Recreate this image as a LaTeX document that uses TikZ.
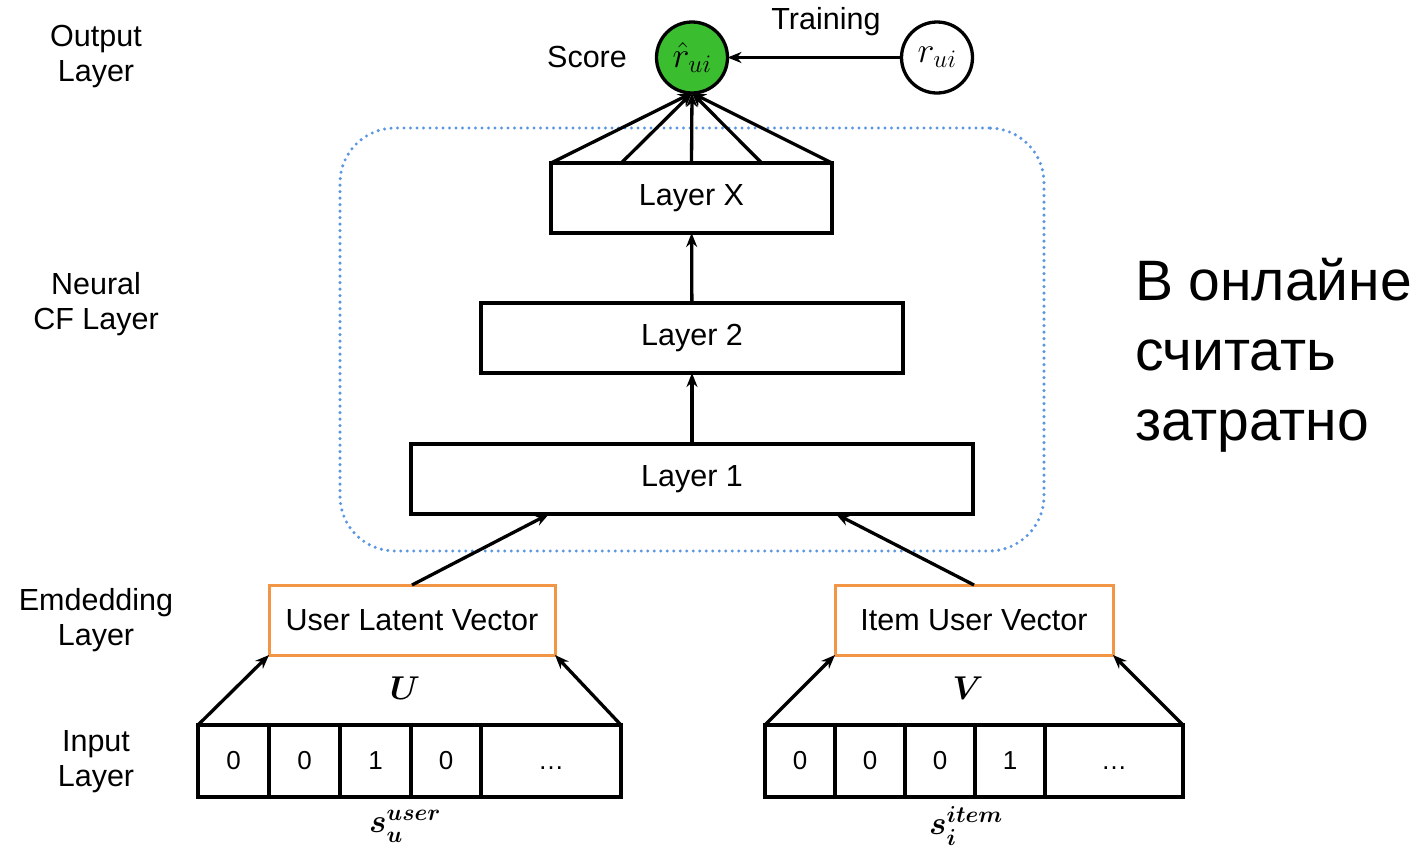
\RequirePackage{fix-cm}
\documentclass[tikz,border=0pt]{standalone}
\usepackage{amsmath}
\usepackage{fontspec}
\setmainfont{Liberation Sans}
\usetikzlibrary{arrows.meta,calc}

\definecolor{scoregreen}{RGB}{58,190,48}
\definecolor{embed}{RGB}{242,150,70}
\definecolor{cfblue}{RGB}{90,150,225}

\begin{document}
\begin{tikzpicture}[x=1pt,y=-1pt,
  every node/.style={inner sep=0pt, outer sep=0pt},
  lbl/.style={font=\fontsize{30.5}{35}\selectfont, align=center},
  mathlbl/.style={font=\fontsize{33}{38}\selectfont},
  layerbox/.style={draw=black, line width=3.3pt, minimum height=70pt,
    font=\fontsize{30.5}{35}\selectfont},
  embbox/.style={draw=embed, line width=3pt, minimum height=70pt,
    font=\fontsize{30.5}{35}\selectfont},
  cell/.style={draw=black, line width=3.3pt, minimum height=72pt,
    font=\fontsize{26}{30}\selectfont},
  unit/.style={circle, draw=black, line width=3.3pt, minimum size=71pt,
    font=\fontsize{36}{40}\selectfont},
  arr/.style={line width=3.3pt, -{Stealth[length=14pt,width=11pt]}},
  cfframe/.style={draw=cfblue, line width=3.4pt, line cap=round,
    dash pattern=on 0pt off 6.5pt, rounded corners=55pt}]

\useasboundingbox (0,0) rectangle (1422,855);

% layer captions on the left
\node[lbl] (capout) at (96,57)  {Output\\Layer};
\node[lbl] (capcf)  at (96,304) {Neural\\CF Layer};
\node[lbl] (capemb) at (96,620) {Emdedding\\Layer};
\node[lbl] (capin)  at (96,762) {Input\\Layer};

% neural CF block
\node[cfframe, minimum width=704pt, minimum height=423pt] (cf) at (692,339.5) {};
\node[layerbox, minimum width=281pt] (lx) at (691.5,198) {Layer X};
\node[layerbox, minimum width=422pt] (l2) at (692,338) {Layer 2};
\node[layerbox, minimum width=562pt] (l1) at (692,479) {Layer 1};

% output
\node[unit, fill=scoregreen] (score) at (692,57.5) {$\hat{r}_{ui}$};
\node[unit] (truth) at (937,57.5) {$r_{ui}$};
\node[lbl] (scorelbl) at (587,57) {Score};
\node[lbl] (trainlbl) at (826,22) {Training};

% embeddings
\node[embbox, minimum width=286pt] (ue) at (412,620) {User Latent Vector};
\node[embbox, minimum width=278pt] (ie) at (974,620) {Item User Vector};
\node[mathlbl] (U) at (405,688) {$\boldsymbol{U}$};
\node[mathlbl] (V) at (968,688) {$\boldsymbol{V}$};

% one-hot user input
\node[cell, minimum width=71pt]  (u1) at (233.5,761) {0};
\node[cell, minimum width=71pt]  (u2) at (304.5,761) {0};
\node[cell, minimum width=71pt]  (u3) at (375.5,761) {1};
\node[cell, minimum width=70pt]  (u4) at (446,761)   {0};
\node[cell, minimum width=140pt] (u5) at (551,761)   {\vphantom{0}\ldots};
\node[mathlbl] (su) at (405,826) {$\boldsymbol{s_u^{user}}$};

% one-hot item input
\node[cell, minimum width=70pt]  (i1) at (800,761)  {0};
\node[cell, minimum width=70pt]  (i2) at (870,761)  {0};
\node[cell, minimum width=70pt]  (i3) at (940,761)  {0};
\node[cell, minimum width=70pt]  (i4) at (1010,761) {1};
\node[cell, minimum width=138pt] (i5) at (1114,761) {\vphantom{0}\ldots};
\node[mathlbl] (si) at (966,826) {$\boldsymbol{s_i^{item}}$};

% remark
\node[anchor=west, align=left, font=\fontsize{57}{70}\selectfont] (note)
  at (1135,355) {В онлайне\\считать\\затратно};

% connections
\foreach \k in {0,0.25,0.5,0.75,1}
  \draw[arr] ($(lx.north west)!\k!(lx.north east)$) -- (score.south);
\draw[arr] (truth) -- (score);
\draw[arr] (l2) -- (lx);
\draw[arr] (l1) -- (l2);
\draw[arr] (ue.north) -- ($(l1.south west)!0.2456!(l1.south east)$);
\draw[arr] (ie.north) -- ($(l1.south west)!0.756!(l1.south east)$);
\draw[arr] (u1.north west) -- (ue.south west);
\draw[arr] (u5.north east) -- (ue.south east);
\draw[arr] (i1.north west) -- (ie.south west);
\draw[arr] (i5.north east) -- (ie.south east);
\end{tikzpicture}
\end{document}
